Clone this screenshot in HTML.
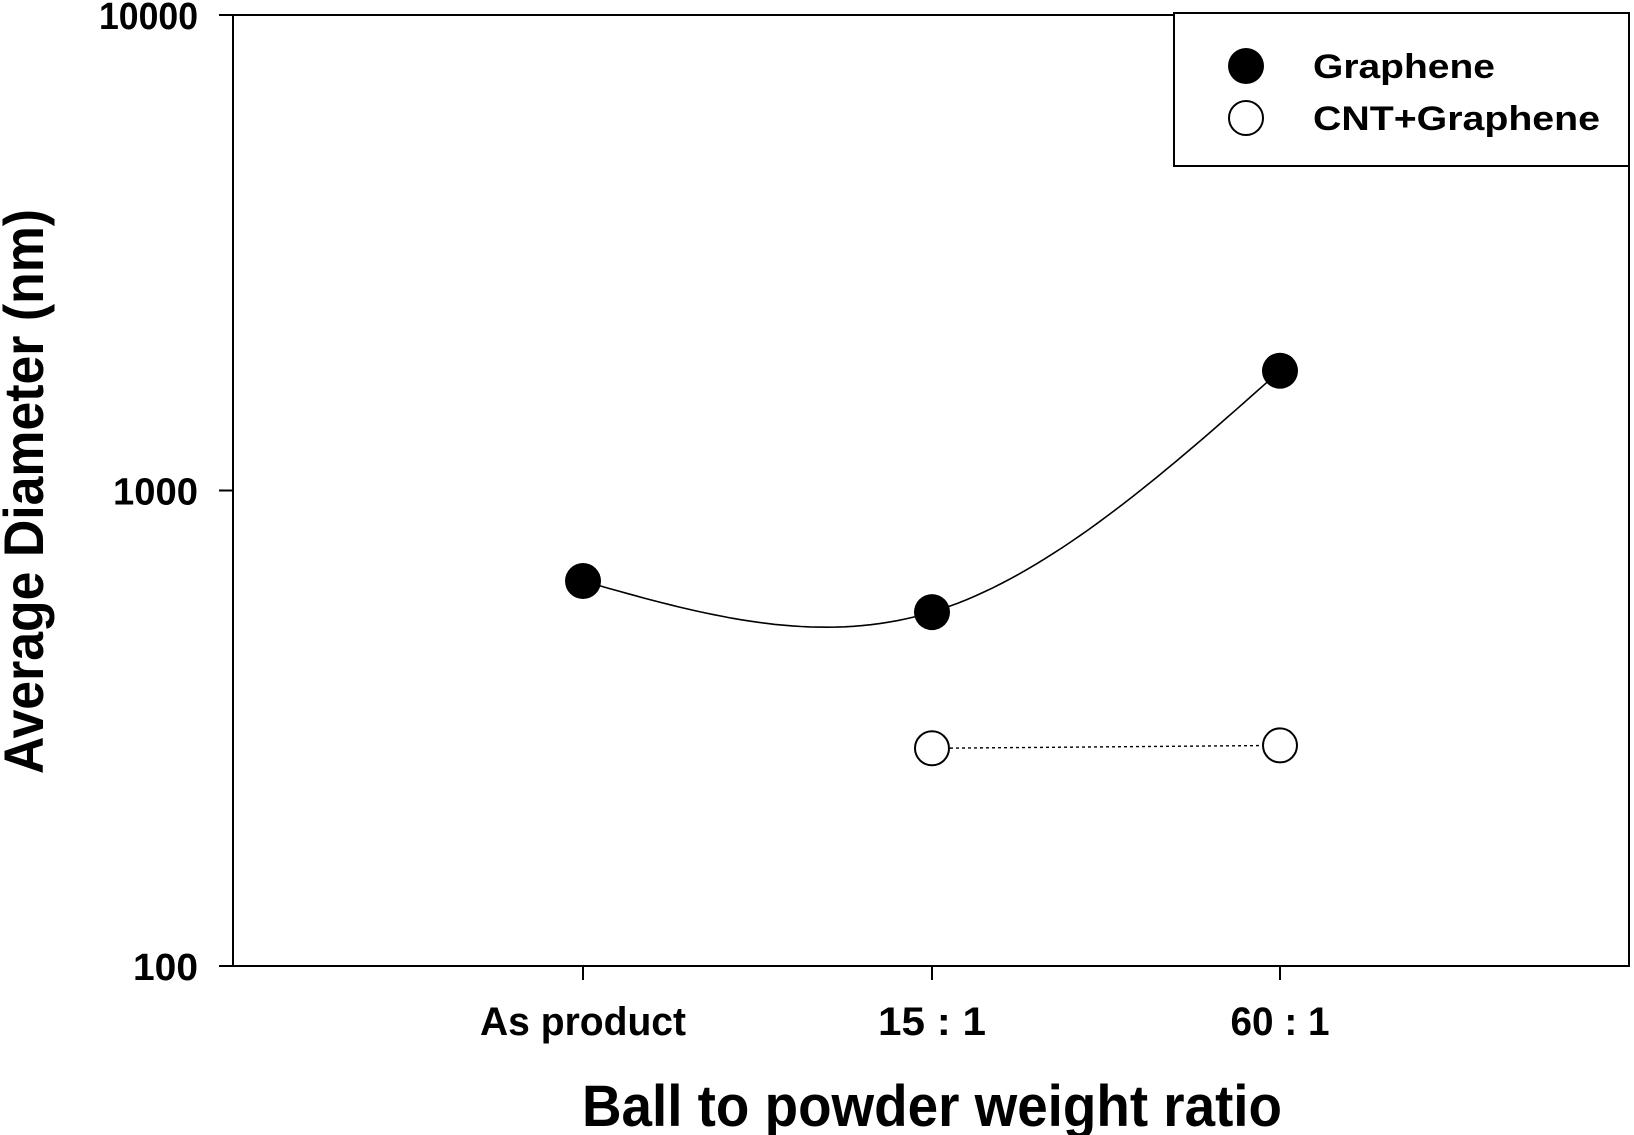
<!DOCTYPE html>
<html><head><meta charset="utf-8"><style>
html,body{margin:0;padding:0;background:#fff}
svg{display:block;font-family:"Liberation Sans",Arial,sans-serif;font-weight:bold}
</style></head><body>
<svg id="c" width="1634" height="1135" viewBox="0 0 1634 1135"></svg>
<script>
const categories=["As product","15 : 1","60 : 1"];
const grapheneValues=[645,555,1786];
const cntValues=[null,287,291];
const yTicks=[100,1000,10000];
const yTickLabels=["100","1000","10000"];
const svg=document.getElementById('c');
const NS='http://www.w3.org/2000/svg';
const L=233,R=1629,T=15,B=966;
const xPos=[583,932,1280];
const xLabelLen=[206,108,99];
const yLabelLen=[65,85,99];
function x(i){return xPos[i];}
function y(v){return B-(Math.log10(v)-2)/2*(B-T);}
function el(t,a,txt){const e=document.createElementNS(NS,t);for(const k in a)e.setAttribute(k,a[k]);if(txt!=null)e.textContent=txt;svg.appendChild(e);return e;}
let f=el('rect',{x:L,y:T,width:R-L,height:B-T,fill:'none',stroke:'#000','stroke-width':2});


yTicks.forEach((v,i)=>{
 let t=el('line',{x1:L-14,x2:L,y1:y(v),y2:y(v),stroke:'#000','stroke-width':2});
 
 
 let l=el('text',{x:198-yLabelLen[i],y:y(v)+14,'font-size':38,textLength:yLabelLen[i],lengthAdjust:'spacingAndGlyphs'},yTickLabels[i]);
 
 
});
categories.forEach((c,i)=>{
 let t=el('line',{x1:x(i),x2:x(i),y1:B,y2:B+14,stroke:'#000','stroke-width':2});
 
 
 let l=el('text',{x:x(i)-xLabelLen[i]/2,y:1035,'font-size':40,textLength:xLabelLen[i],lengthAdjust:'spacingAndGlyphs'},c);
 
 
});
let xt=el('text',{x:932-350,y:1126,'font-size':58,textLength:700,lengthAdjust:'spacingAndGlyphs'},'Ball to powder weight ratio');


let yt=el('text',{x:-282,y:0,'font-size':56,textLength:565,lengthAdjust:'spacingAndGlyphs',transform:'translate(43,492) rotate(-90)'},'Average Diameter (nm)');


(function(){
 const xs=grapheneValues.map((v,i)=>x(i)), ys=grapheneValues.map(v=>y(v));
 const h0=xs[1]-xs[0],h1=xs[2]-xs[1];
 const M1=6*((ys[2]-ys[1])/h1-(ys[1]-ys[0])/h0)/(2*(h0+h1));
 const M=[0,M1,0];
 let d='';
 for(let s=0;s<2;s++){const h=s?h1:h0;
  for(let k=0;k<=40;k++){const xx=xs[s]+h*k/40;const a=(xs[s+1]-xx)/h,b=(xx-xs[s])/h;
   const yy=a*ys[s]+b*ys[s+1]+((a*a*a-a)*M[s]+(b*b*b-b)*M[s+1])*h*h/6;
   d+=(d?'L':'M')+xx.toFixed(1)+' '+yy.toFixed(1);}}
 let p=el('path',{d:d,fill:'none',stroke:'#000','stroke-width':1.6});
 
 
})();
let cp=[];cntValues.forEach((v,i)=>{if(v!=null)cp.push(x(i)+','+y(v));});
let cl=el('polyline',{points:cp.join(' '),fill:'none',stroke:'#000','stroke-width':1.4,'stroke-dasharray':'3 3'});


grapheneValues.forEach((v,i)=>{
 let c=el('circle',{cx:x(i),cy:y(v),r:18,fill:'#000'});
 
 
});
cntValues.forEach((v,i)=>{if(v==null)return;
 let c=el('circle',{cx:x(i),cy:y(v),r:17,fill:'#fff',stroke:'#000','stroke-width':2});
 
 
});
let lg=el('rect',{x:1174,y:13,width:455,height:153,fill:'#fff',stroke:'#000','stroke-width':2});


let m1=el('circle',{cx:1246,cy:66,r:18,fill:'#000'});


let t1=el('text',{x:1313,y:78,'font-size':34,textLength:182,lengthAdjust:'spacingAndGlyphs'},'Graphene');


let m2=el('circle',{cx:1246,cy:118,r:17,fill:'#fff',stroke:'#000','stroke-width':2});


let t2=el('text',{x:1313,y:130,'font-size':34,textLength:287,lengthAdjust:'spacingAndGlyphs'},'CNT+Graphene');


</script>
</body></html>
